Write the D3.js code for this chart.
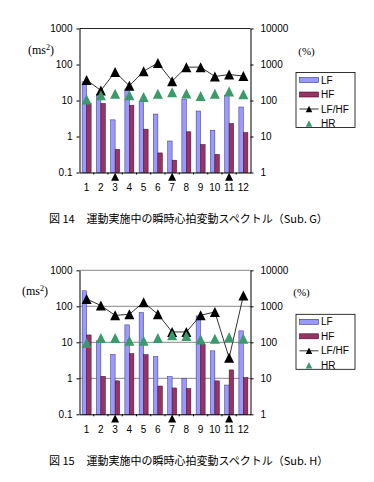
<html>
<head>
<meta charset="utf-8">
<title>瞬時心拍変動スペクトル</title>
<style>
  body { margin: 0; background: white; }
  .tick text { font-family: "Liberation Sans", Arial, sans-serif; font-size: 10px; fill: #000; }
  .legend text { font-family: "Liberation Sans", Arial, sans-serif; font-size: 10px; }
  .unit { font-family: "Liberation Serif", serif; }
  .caption { font-family: "Noto Sans CJK JP", sans-serif; font-size: 11px; }
</style>
</head>
<body>
<div id="chart"></div>
<script src="https://cdnjs.cloudflare.com/ajax/libs/d3/7.8.5/d3.min.js"></script>
<script>
// categories (time points) and marked points under the x axis
const categories = ["1","2","3","4","5","6","7","8","9","10","11","12"];
const markedPoints = ["3","7","11"];
const leftTicks = [0.1, 1, 10, 100, 1000];
const leftTickLabels = ["0.1","1","10","100","1000"];
const rightTicks = [1, 10, 100, 1000, 10000];
const rightTickLabels = ["1","10","100","1000","10000"];
const legendNames = ["LF","HF","LF/HF","HR"];

// 図14 Sub.G
const subG_LF   = [33, 15, 2.9, 21, 9.5, 4.2, 0.75, 11, 5.1, 1.5, 14, 6.6];
const subG_HF   = [8.3, 8.3, 0.44, 7.4, 1.6, 0.35, 0.22, 1.35, 0.6, 0.32, 2.3, 1.29];
const subG_LFHF = [370, 190, 620, 255, 650, 1100, 345, 845, 845, 465, 525, 480];
const subG_HR   = [107, 140, 153, 140, 126, 153, 170, 156, 134, 153, 178, 150];

// 図15 Sub.H
const subH_LF   = [270, 11, 4.6, 30.5, 67, 4.0, 1.11, 0.98, 54, 5.8, 0.65, 20.8];
const subH_HF   = [16, 1.14, 0.85, 4.85, 4.55, 0.61, 0.54, 0.52, 8.8, 0.85, 1.71, 1.05];
const subH_LFHF = [1600, 1050, 560, 600, 1300, 600, 194, 194, 565, 695, 37, 2000];
const subH_HR   = [95, 132, 132, 110, 110, 132, 156, 150, 119, 126, 138, 126];

const colLF = "#9999ff", colHF = "#993366", colHR = "#3a9a6a";

// triangle drawn inside its bounding box (like excel markers)
const boxTriangle = {
  draw(ctx, size) {
    const w = Math.sqrt(size);
    ctx.moveTo(0, -w / 2);
    ctx.lineTo(w / 2, w / 2);
    ctx.lineTo(-w / 2, w / 2);
    ctx.closePath();
  }
};

const svg = d3.select("#chart").append("svg")
  .attr("width", 374).attr("height", 482);
svg.append("rect").attr("width", 374).attr("height", 482).attr("fill", "white");

function drawChart(cfg) {
  const top = cfg.top, bottom = cfg.top + 144;
  const left = 79.5, right = 250.5;
  const g = svg.append("g");

  const x = d3.scaleBand().domain(categories).range([left, right]);
  const xSub = d3.scaleBand().domain(["LF","HF"]).range([0, x.bandwidth()]).paddingOuter(0.58);
  const y = d3.scaleLog().domain([0.1, 1000]).range([bottom, top]);
  const y2 = d3.scaleLog().domain([1, 10000]).range([bottom, top]);

  // gridlines / plot border
  if (cfg.grid) {
    g.selectAll(".grid").data(leftTicks.slice(1)).join("line")
      .attr("x1", left).attr("x2", right)
      .attr("y1", d => y(d)).attr("y2", d => y(d))
      .attr("stroke", "#888").attr("stroke-width", 1);
  } else {
    g.append("line").attr("x1", left).attr("x2", right)
      .attr("y1", top).attr("y2", top).attr("stroke", "#222");
  }

  // bars
  const rows = categories.map((c, i) => ({c, LF: cfg.LF[i], HF: cfg.HF[i]}));
  const grp = g.selectAll(".bars").data(rows).join("g")
    .attr("transform", d => `translate(${x(d.c)},0)`);
  grp.append("rect")
    .attr("x", xSub("LF")).attr("width", xSub.bandwidth())
    .attr("y", d => y(d.LF)).attr("height", d => y(0.1) - y(d.LF))
    .attr("fill", colLF).attr("stroke", "#33337a").attr("stroke-width", 0.5);
  grp.append("rect")
    .attr("x", xSub("HF")).attr("width", xSub.bandwidth())
    .attr("y", d => y(d.HF)).attr("height", d => y(0.1) - y(d.HF))
    .attr("fill", colHF).attr("stroke", "#3a1020").attr("stroke-width", 0.5);

  // axes
  const axL = g.append("g").attr("transform", `translate(${left},0)`)
    .call(d3.axisLeft(y).tickValues(leftTicks).tickFormat((d, i) => leftTickLabels[i])
      .tickSize(3).tickSizeOuter(0).tickPadding(4));
  const axR = g.append("g").attr("transform", `translate(${right},0)`)
    .call(d3.axisRight(y2).tickValues(rightTicks).tickFormat((d, i) => rightTickLabels[i])
      .tickSize(3).tickSizeOuter(0).tickPadding(7));
  const axB = g.append("g").attr("transform", `translate(0,${bottom})`)
    .call(d3.axisBottom(x).tickSize(0).tickSizeOuter(0).tickPadding(15));
  axB.selectAll(".tick text").attr("dy", "0.35em");
  // small ticks between categories
  axB.selectAll(".sep").data(categories.slice(1)).join("line")
    .attr("x1", d => x(d)).attr("x2", d => x(d))
    .attr("y1", 0).attr("y2", 2).attr("stroke", "#000");
  [axL, axR, axB].forEach(a => a.selectAll("path, line").attr("stroke", "#000"));

  // LF/HF line + markers
  const pts = categories.map((c, i) => ({c, v: cfg.LFHF[i]}));
  g.append("path").datum(pts)
    .attr("d", d3.line().x(d => x(d.c) + x.bandwidth() / 2).y(d => y2(d.v)))
    .attr("fill", "none").attr("stroke", "#000").attr("stroke-width", 0.8);
  g.selectAll(".lfhf").data(pts).join("path")
    .attr("transform", d => `translate(${x(d.c) + x.bandwidth() / 2},${y2(d.v)})`)
    .attr("d", d3.symbol(boxTriangle, 100)).attr("fill", "#000");

  // HR markers
  const hr = categories.map((c, i) => ({c, v: cfg.HR[i]}));
  g.selectAll(".hr").data(hr).join("path")
    .attr("transform", d => `translate(${x(d.c) + x.bandwidth() / 2},${y2(d.v)})`)
    .attr("d", d3.symbol(boxTriangle, 100)).attr("fill", colHR);

  // marked points below the x axis
  g.selectAll(".mark").data(markedPoints).join("path")
    .attr("transform", d => `translate(${x(d) + x.bandwidth() / 2},${bottom + 4.3})`)
    .attr("d", d3.symbol(boxTriangle, 64)).attr("fill", "#000");

  // units
  g.append("text").attr("class", "unit").attr("x", cfg.msX).attr("y", top + 25)
    .attr("text-anchor", "middle").attr("font-size", 12)
    .html('(ms<tspan font-size="8" dy="-4">2</tspan><tspan dy="4">)</tspan>');
  g.append("text").attr("class", "unit").attr("x", cfg.pctX).attr("y", top + 26)
    .attr("text-anchor", "middle").attr("font-size", 11).text("(%)");

  // legend
  const lg = g.append("g").attr("class", "legend")
    .attr("transform", `translate(296,${top + 44})`);
  lg.append("rect").attr("width", 59).attr("height", 55)
    .attr("fill", "white").attr("stroke", "#000").attr("stroke-width", 0.8);
  const rowY = d3.scalePoint().domain(legendNames).range([7.5, 51]);
  lg.append("rect").attr("x", 3.5).attr("y", rowY("LF") - 2.5).attr("width", 19).attr("height", 5)
    .attr("fill", colLF).attr("stroke", "#33337a").attr("stroke-width", 0.6);
  lg.append("rect").attr("x", 3.5).attr("y", rowY("HF") - 2.5).attr("width", 19).attr("height", 5)
    .attr("fill", colHF).attr("stroke", "#3a1020").attr("stroke-width", 0.6);
  lg.append("line").attr("x1", 3.5).attr("x2", 22.5)
    .attr("y1", rowY("LF/HF")).attr("y2", rowY("LF/HF")).attr("stroke", "#000").attr("stroke-width", 0.8);
  lg.append("path").attr("transform", `translate(13,${rowY("LF/HF")})`)
    .attr("d", d3.symbol(boxTriangle, 42)).attr("fill", "#000");
  lg.append("path").attr("transform", `translate(13,${rowY("HR")})`)
    .attr("d", d3.symbol(boxTriangle, 42)).attr("fill", colHR);
  lg.selectAll(".lt").data(legendNames).join("text")
    .attr("x", 25).attr("y", d => rowY(d)).attr("dy", "0.35em").text(d => d);

  // caption
  svg.append("text").attr("class", "caption").attr("x", 49).attr("y", cfg.capY).text(cfg.capNo);
  svg.append("text").attr("class", "caption").attr("x", 86.5).attr("y", cfg.capY).text(cfg.capText);
}

drawChart({top: 28.5, LF: subG_LF, HF: subG_HF, LFHF: subG_LFHF, HR: subG_HR,
  grid: false, msX: 41, pctX: 306.5, capY: 223,
  capNo: "図 14", capText: "運動実施中の瞬時心拍変動スペクトル（Sub. G）"});
drawChart({top: 270.3, LF: subH_LF, HF: subH_HF, LFHF: subH_LFHF, HR: subH_HR,
  grid: true, msX: 35, pctX: 301.5, capY: 465,
  capNo: "図 15", capText: "運動実施中の瞬時心拍変動スペクトル（Sub. H）"});
</script>
</body>
</html>
